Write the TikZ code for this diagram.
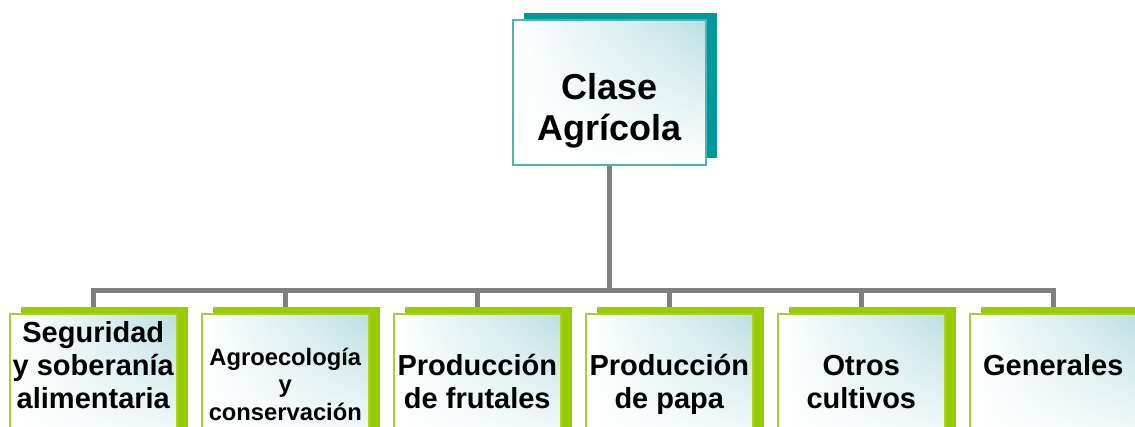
\documentclass[tikz,border=0pt]{standalone}
\usepackage{fontspec}
\setmainfont{Liberation Sans}
\usetikzlibrary{positioning,shadows,fadings,backgrounds}
\definecolor{tealdark}{HTML}{009999}
\definecolor{tealline}{HTML}{4DB3B3}
\definecolor{tealpale}{HTML}{BCE0E3}
\definecolor{limegreen}{HTML}{99CC00}
\definecolor{limeline}{HTML}{A6D12E}
\definecolor{linkgray}{HTML}{808080}

\begin{document}
\begin{tikzpicture}[x=0.75pt, y=-0.75pt, node distance=17.55pt]
\tikzstyle{card}=[rectangle, inner sep=0pt, line width=1.2pt, left color=white, right color=tealpale,
  path picture={\fill[white, path fading=north] (path picture bounding box.south west) rectangle (path picture bounding box.north east);}]
\tikzstyle{topcard}=[card, draw=tealline, minimum width=144.75pt, minimum height=108.75pt,
  drop shadow={fill=tealdark, opacity=1, shadow xshift=8.25pt, shadow yshift=5.25pt}]
\tikzstyle{subcard}=[card, draw=limeline, minimum width=125.25pt, minimum height=108.75pt,
  drop shadow={fill=limegreen, opacity=1, shadow xshift=8.6pt, shadow yshift=5.25pt}]
\tikzstyle{toptext}=[font=\fontsize{27}{30.75}\selectfont\bfseries, align=center, anchor=base, inner sep=0pt]
\tikzstyle{subtext}=[font=\fontsize{21.75}{24.75}\selectfont\bfseries, align=center, anchor=base, inner sep=0pt]
\tikzstyle{smalltext}=[font=\fontsize{17.8}{20.6}\selectfont\bfseries, align=center, anchor=base, inner sep=0pt]
\tikzstyle{link}=[draw=linkgray, line width=3.75pt]
\useasboundingbox (0,0) rectangle (1135,426);
\clip (0,0) rectangle (1135,426);
% top box
\node[topcard] (clase) at (609.5,92.5) {};
\node[toptext] (clase-t) at (609.5,140) {Clase\\Agrícola};
% second row
\node[subcard, anchor=north west] (seg) at (9,313) {};
\node[subcard, right=of seg]   (agro)  {};
\node[subcard, right=of agro]  (frut)  {};
\node[subcard, right=of frut]  (papa)  {};
\node[subcard, right=of papa]  (otros) {};
\node[subcard, right=of otros] (gen)   {};
% texts (base = last line)
\node[subtext]   (seg-t)   at (seg.north |- 0,408)   {Seguridad\\y soberanía\\alimentaria};
\node[smalltext] (agro-t)  at (agro.north |- 0,420)  {Agroecología\\y\\conservación};
\node[subtext]   (frut-t)  at (frut.north |- 0,408)  {Producción\\de frutales};
\node[subtext]   (papa-t)  at (papa.north |- 0,408)  {Producción\\de papa};
\node[subtext]   (otros-t) at (otros.north |- 0,408) {Otros\\cultivos};
\node[subtext]   (gen-t)   at (gen.north |- 0,375)   {Generales};
% links
\begin{scope}[on background layer]
\draw[link] (clase.south) -- (clase.south |- 0,290) -| (seg.north);
\draw[link] (clase.south) -- (clase.south |- 0,290) -| (agro.north);
\draw[link] (clase.south) -- (clase.south |- 0,290) -| (frut.north);
\draw[link] (clase.south) -- (clase.south |- 0,290) -| (papa.north);
\draw[link] (clase.south) -- (clase.south |- 0,290) -| (otros.north);
\draw[link] (clase.south) -- (clase.south |- 0,290) -| (gen.north);
\end{scope}
\end{tikzpicture}
\end{document}
